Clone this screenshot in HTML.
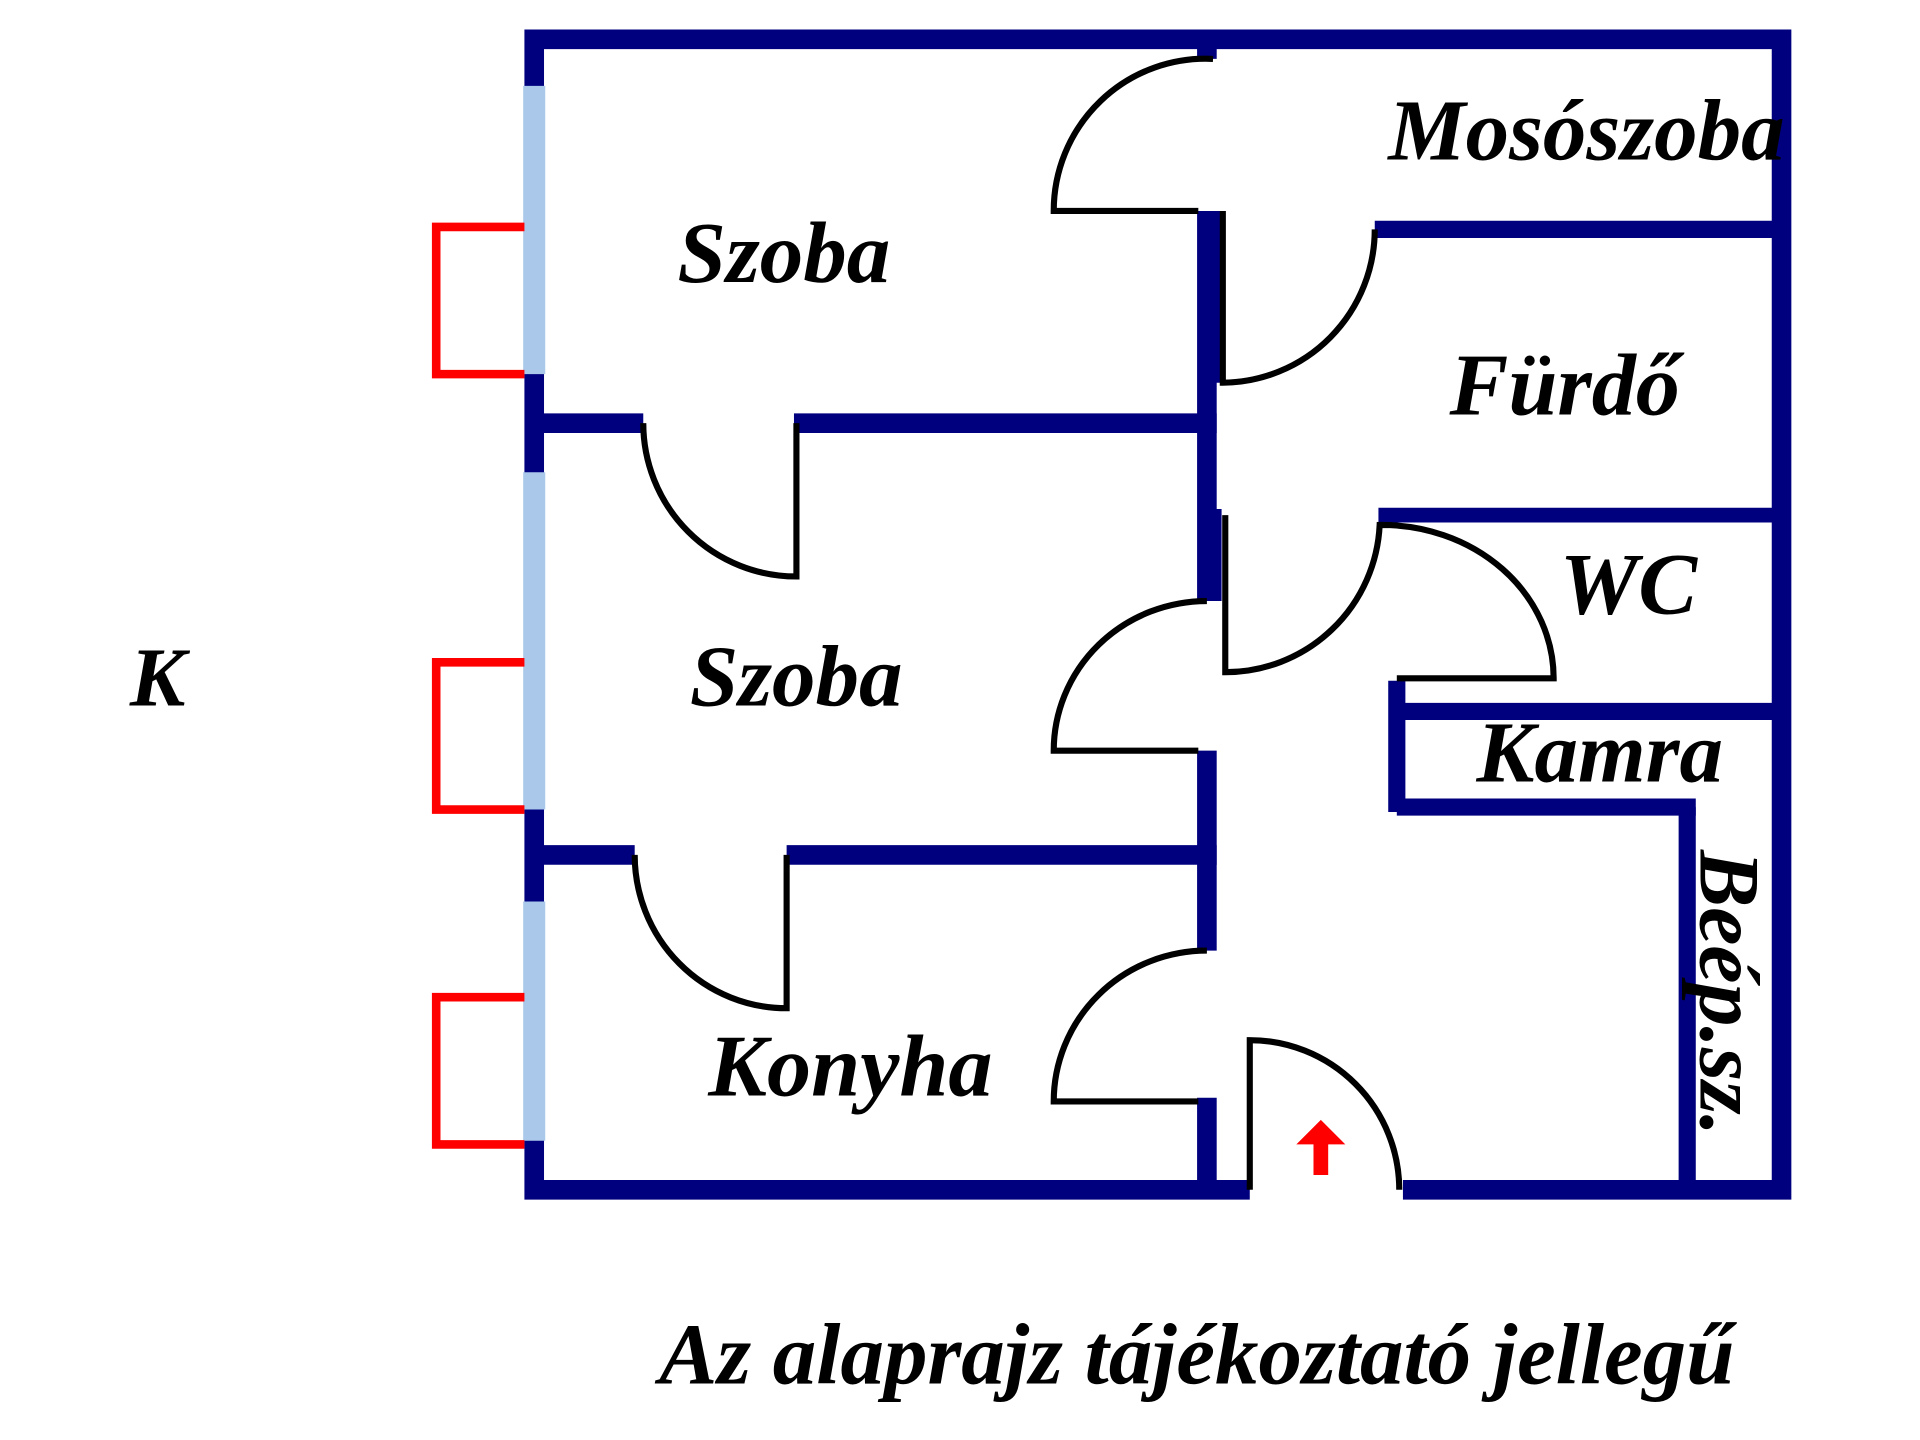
<!DOCTYPE html>
<html><head><meta charset="utf-8"><style>
html,body{margin:0;padding:0;background:#fff;width:1920px;height:1440px;overflow:hidden}
svg{display:block}
text{font-family:"Liberation Serif",serif;font-weight:bold;font-style:italic;fill:#000}
</style></head><body>
<svg width="1920" height="1440" viewBox="0 0 1567 1174" preserveAspectRatio="none" xmlns="http://www.w3.org/2000/svg">
<rect width="1567" height="1174" fill="#fff"/>
<g stroke="#00007f" stroke-width="16" fill="none" stroke-linecap="butt">
<path d="M428 32 H1462 M1454 24 V978 M428 970 H1020 M1145 970 H1462 M436 24 V978"/>
<path d="M985 32 V48 M985 172 V340 M985 340 V490 M985 612 V775 M985 895 V970"/>
<path d="M993 172 V312 M993 415 V490" stroke-width="8"/>
<path d="M436 345 H525 M648 345 H993 M436 697 H518 M642 697 H993"/>
<path d="M1122 187 H1454" stroke-width="14"/>
<path d="M1125 420 H1454" stroke-width="12"/>
<path d="M1140 580 H1454" stroke-width="14"/>
<path d="M1140 555 V662 M1140 658 H1384" stroke-width="14"/>
<path d="M1377 658 V970" stroke-width="14"/>
</g>
<g stroke="#a9c8ea" stroke-width="18">
<path d="M436 70 V305 M436 385 V660 M436 735 V930"/>
</g>
<g stroke="#f00" stroke-width="7" fill="none">
<path d="M428 185 H356 V305 H428 M428 540 H356 V660 H428 M428 813 H356 V933 H428"/>
</g>
<g stroke="#000" stroke-width="5" fill="none">
<path d="M990 48 A124 124 0 0 0 860 172 H978"/>
<path d="M998 172 V312 A125 125 0 0 0 1122 187"/>
<path d="M650 345 V470 A125 125 0 0 1 525 345"/>
<path d="M1000 420 V548 A126 126 0 0 0 1126 428 A140 125 0 0 1 1268 553 H1140"/>
<path d="M985 490 A125 122 0 0 0 860 612 H978"/>
<path d="M642 697 V822 A124 125 0 0 1 518 697"/>
<path d="M985 775 A125 123 0 0 0 860 898 H978"/>
<path d="M1020 970 V848 A122 122 0 0 1 1142 970"/>
</g>
<path d="M1078 913 L1058 933 H1072 V958 H1084 V933 H1098 Z" fill="#f00"/>
<text x="553" y="230" font-size="71">Szoba</text>
<text x="563" y="575" font-size="71">Szoba</text>
<text x="578" y="893" font-size="72">Konyha</text>
<text x="1133" y="130" font-size="71">Mosószoba</text>
<text x="1183" y="338" font-size="72">Fürdő</text>
<text x="1273" y="500" font-size="72">WC</text>
<text x="1205" y="637" font-size="71">Kamra</text>
<text x="106" y="575" font-size="68">K</text>
<text transform="translate(1388,693) rotate(90)" font-size="70">Beép.sz.</text>
<text x="538" y="1128" font-size="71">Az alaprajz tájékoztató jellegű</text>
</svg>
</body></html>
